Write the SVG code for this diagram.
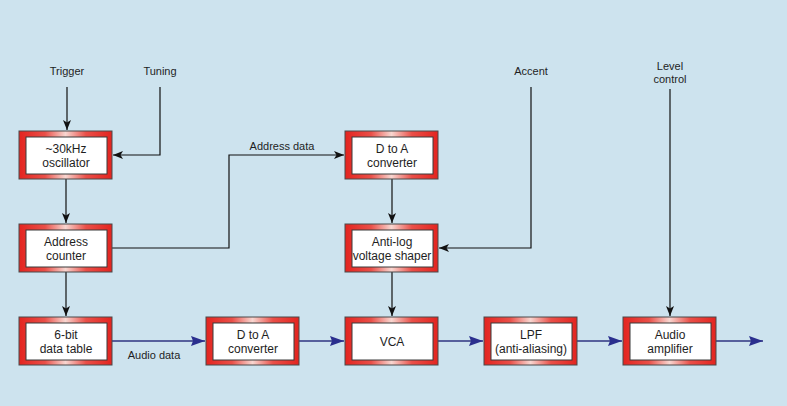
<svg xmlns="http://www.w3.org/2000/svg" width="787" height="406" viewBox="0 0 787 406">
<style>
text{font-family:"Liberation Sans",Arial,sans-serif;font-size:11px;fill:#1e1e1e;text-anchor:middle}
.bt{font-size:12px}
.frame{fill:url(#fg);stroke:#4a4a4a;stroke-width:1}
.inner{fill:#ffffff;stroke:#3a3a3a;stroke-width:1}
.blk{fill:none;stroke:#111;stroke-width:1.2}
.blu{fill:none;stroke:#2e3580;stroke-width:1.3}
</style>
<defs>
<linearGradient id="fg" x1="0" y1="0" x2="1" y2="0">
<stop offset="0" stop-color="#e3241f"/>
<stop offset="0.28" stop-color="#ea4f48"/>
<stop offset="0.5" stop-color="#f8d6d0"/>
<stop offset="0.72" stop-color="#ea4f48"/>
<stop offset="1" stop-color="#e3241f"/>
</linearGradient>
<marker id="ab" markerUnits="userSpaceOnUse" markerWidth="12" markerHeight="10" refX="10" refY="4" orient="auto">
<path d="M0,0 L10,4 L0,8 L2.5,4 Z" fill="#111"/>
</marker>
<marker id="au" markerUnits="userSpaceOnUse" markerWidth="16" markerHeight="12" refX="14" refY="5" orient="auto">
<path d="M0,0 L14,5 L0,10 L2,5 Z" fill="#2a2f8e"/>
</marker>
</defs>
<rect x="0" y="0" width="787" height="406" fill="#cde3ee"/>

<g id="labels">
<text x="67" y="75">Trigger</text>
<text x="160" y="75">Tuning</text>
<text x="531" y="75">Accent</text>
<text x="670" y="70">Level</text>
<text x="670" y="83">control</text>
<text x="282" y="150">Address data</text>
<text x="154" y="359">Audio data</text>
</g>

<g id="connectors">
<path class="blk" d="M67,87 V130" marker-end="url(#ab)"/>
<path class="blk" d="M160,87 V155 H113" marker-end="url(#ab)"/>
<path class="blk" d="M66,179 V223" marker-end="url(#ab)"/>
<path class="blk" d="M66,272 V316" marker-end="url(#ab)"/>
<path class="blk" d="M112,248 H229 V155 H344" marker-end="url(#ab)"/>
<path class="blk" d="M392,179 V223" marker-end="url(#ab)"/>
<path class="blk" d="M531,87 V248 H439" marker-end="url(#ab)"/>
<path class="blk" d="M392,272 V316" marker-end="url(#ab)"/>
<path class="blk" d="M670,89 V316" marker-end="url(#ab)"/>
<path class="blu" d="M112,341 H205" marker-end="url(#au)"/>
<path class="blu" d="M299,341 H344" marker-end="url(#au)"/>
<path class="blu" d="M438,341 H483" marker-end="url(#au)"/>
<path class="blu" d="M577,341 H622" marker-end="url(#au)"/>
<path class="blu" d="M716,341 H763" marker-end="url(#au)"/>
</g>

<g id="oscillator">
<rect class="frame" x="19" y="131" width="93" height="48"/>
<rect class="inner" x="26" y="137" width="81" height="37"/>
<text class="bt" x="66" y="152.5">~30kHz</text>
<text class="bt" x="66" y="166.5">oscillator</text>
</g>
<g id="address-counter">
<rect class="frame" x="19" y="224" width="93" height="48"/>
<rect class="inner" x="26" y="230" width="81" height="37"/>
<text class="bt" x="66" y="245.5">Address</text>
<text class="bt" x="66" y="259.5">counter</text>
</g>
<g id="data-table">
<rect class="frame" x="19" y="317" width="93" height="48"/>
<rect class="inner" x="26" y="323" width="81" height="37"/>
<text class="bt" x="66" y="338.5">6-bit</text>
<text class="bt" x="66" y="352.5">data table</text>
</g>
<g id="dac-audio">
<rect class="frame" x="206" y="317" width="93" height="48"/>
<rect class="inner" x="213" y="323" width="81" height="37"/>
<text class="bt" x="253" y="338.5">D to A</text>
<text class="bt" x="253" y="352.5">converter</text>
</g>
<g id="dac-top">
<rect class="frame" x="345" y="131" width="93" height="48"/>
<rect class="inner" x="352" y="137" width="81" height="37"/>
<text class="bt" x="392" y="152.5">D to A</text>
<text class="bt" x="392" y="166.5">converter</text>
</g>
<g id="antilog">
<rect class="frame" x="345" y="224" width="93" height="48"/>
<rect class="inner" x="352" y="230" width="81" height="37"/>
<text class="bt" x="392" y="245.5">Anti-log</text>
<text class="bt" x="392" y="259.5">voltage shaper</text>
</g>
<g id="vca">
<rect class="frame" x="345" y="317" width="93" height="48"/>
<rect class="inner" x="352" y="323" width="81" height="37"/>
<text class="bt" x="392" y="345.5">VCA</text>
</g>
<g id="lpf">
<rect class="frame" x="484" y="317" width="93" height="48"/>
<rect class="inner" x="491" y="323" width="81" height="37"/>
<text class="bt" x="531" y="338.5">LPF</text>
<text class="bt" x="531" y="352.5">(anti-aliasing)</text>
</g>
<g id="audio-amp">
<rect class="frame" x="623" y="317" width="93" height="48"/>
<rect class="inner" x="630" y="323" width="81" height="37"/>
<text class="bt" x="670" y="338.5">Audio</text>
<text class="bt" x="670" y="352.5">amplifier</text>
</g>
</svg>
